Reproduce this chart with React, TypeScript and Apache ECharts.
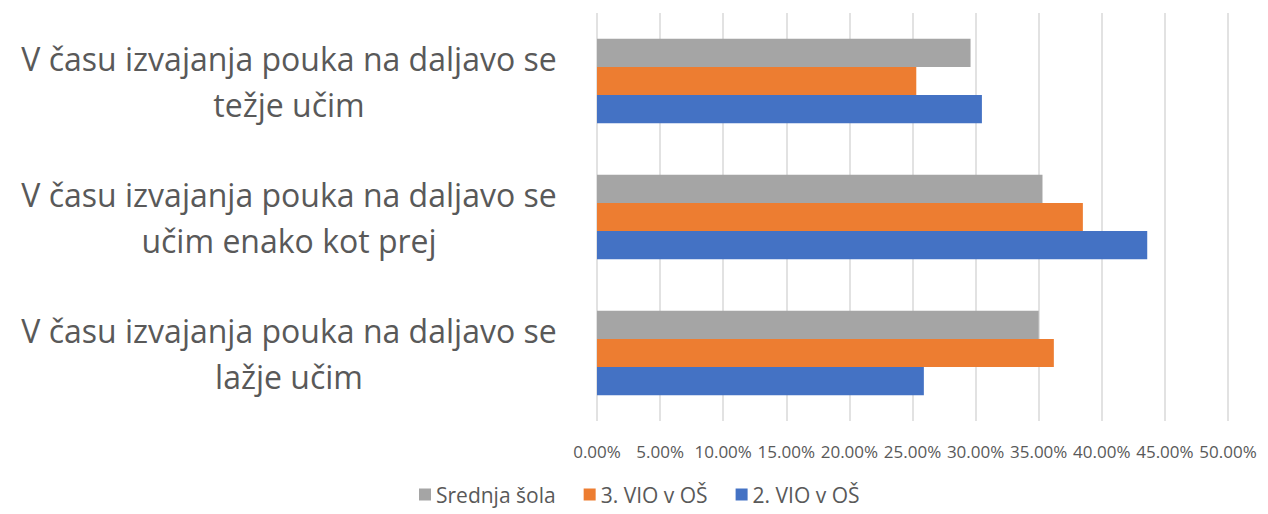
import React, { useEffect, useRef } from "react";
import * as echarts from "echarts";

const categories = [
  "V času izvajanja pouka na daljavo se\nlažje učim",
  "V času izvajanja pouka na daljavo se\nučim enako kot prej",
  "V času izvajanja pouka na daljavo se\ntežje učim",
];
const seriesNames = ["Srednja šola", "3. VIO v OŠ", "2. VIO v OŠ"];
const srednja = [35.0, 35.3, 29.6];
const vio3 = [36.2, 38.5, 25.3];
const vio2 = [25.9, 43.6, 30.5];

export default function App() {
  const ref = useRef<HTMLDivElement>(null);
  useEffect(() => {
    if (!ref.current) return;
    const chart = echarts.init(ref.current, undefined, { renderer: "svg" });
    const font = "Open Sans";
    chart.setOption({
      animation: false,
      textStyle: { fontFamily: font },
      grid: { left: 589, right: 32, top: 5, bottom: 93, containLabel: false },
      legend: {
        data: seriesNames,
        top: 476,
        left: 411,
        itemWidth: 12,
        itemHeight: 12,
        itemGap: 28,
        icon: "rect",
        padding: 0,
        textStyle: { fontSize: 21, color: "#595959", fontFamily: font },
      },
      xAxis: {
        type: "value",
        min: 0,
        max: 50,
        interval: 5,
        axisLine: { show: false },
        axisTick: { show: false },
        splitLine: { lineStyle: { color: "#d9d9d9", width: 1.5 } },
        axisLabel: {
          color: "#595959",
          fontSize: 17,
          margin: 22,
          formatter: (v: number) => v.toFixed(2) + "%",
        },
      },
      yAxis: {
        type: "category",
        data: categories,
        axisLine: { show: false },
        axisTick: { show: false },
        axisLabel: {
          color: "#595959",
          fontSize: 32,
          lineHeight: 46,
          align: "center",
          margin: 308,
        },
      },
      series: [
        { name: seriesNames[0], type: "bar", data: srednja, itemStyle: { color: "#A5A5A5" }, barGap: "0%", barCategoryGap: "38%" },
        { name: seriesNames[1], type: "bar", data: vio3, itemStyle: { color: "#ED7D31" }, barGap: "0%", barCategoryGap: "38%" },
        { name: seriesNames[2], type: "bar", data: vio2, itemStyle: { color: "#4472C4" }, barGap: "0%", barCategoryGap: "38%" },
      ],
    });
    return () => chart.dispose();
  }, []);
  return <div ref={ref} style={{ width: 1252, height: 506 }} />;
}
